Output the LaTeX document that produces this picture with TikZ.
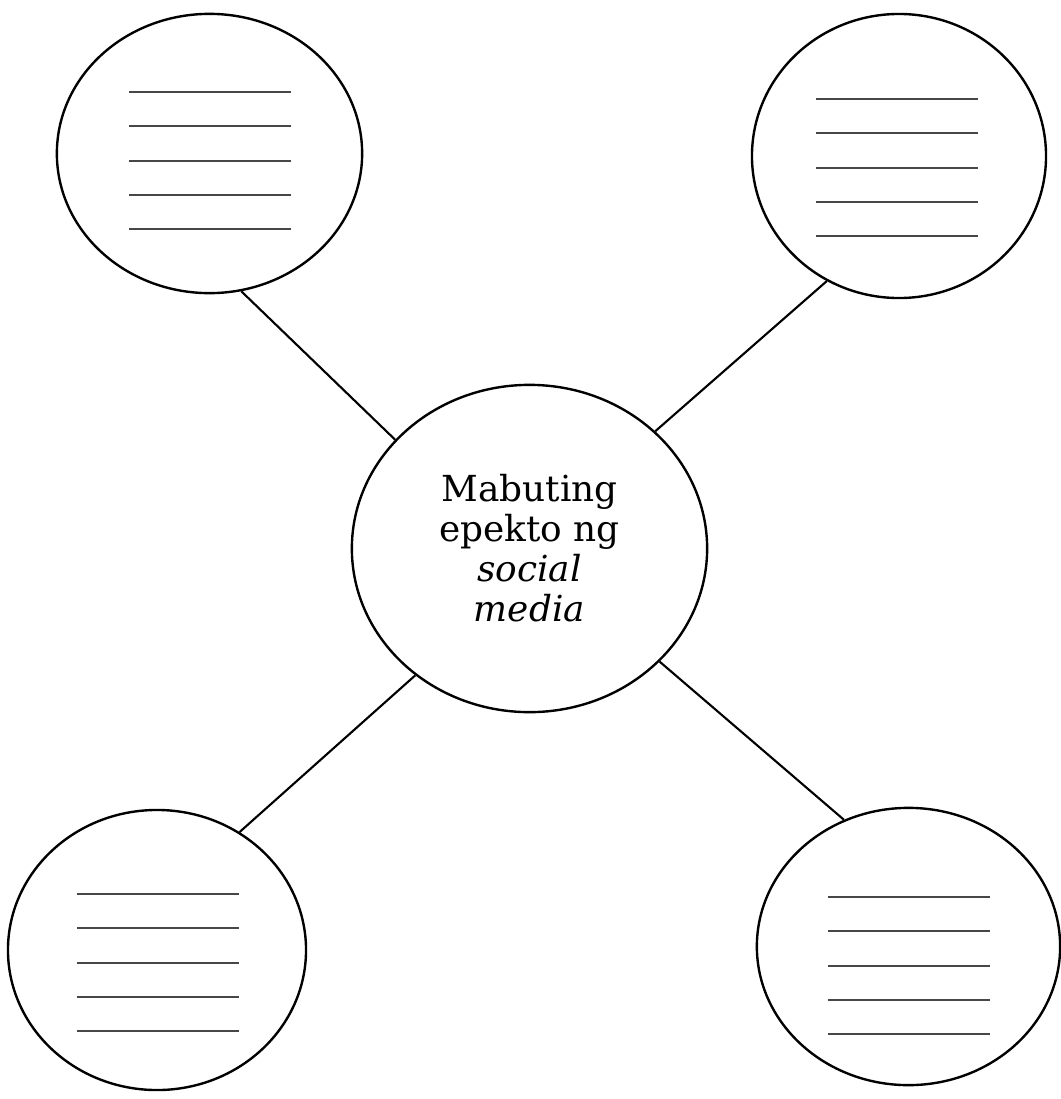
\documentclass[tikz,border=0pt]{standalone}
\usepackage{fontspec}
\setmainfont{DejaVu Serif}
\usepackage{tikz}
\usetikzlibrary{shapes.geometric}
\newcommand*{\blankLines}[2]{%
  \foreach \k in {0,...,4} {
    \draw [blank line] (#1, #2 + 34.3*\k) -- ++(162, 0);
  }
}

\begin{document}
\begin{tikzpicture}[x=0.025cm, y=-0.025cm,
    bubble/.style={ellipse, draw, line width=1.7pt, inner sep=0pt},
    blank line/.style={line width=1.4pt, draw=black!72},
    spoke/.style={line width=1.5pt}]
\useasboundingbox (0,0) rectangle (1060,1099);

\node (hub) [bubble, minimum width=8.88cm, minimum height=8.18cm,
             align=center, font=\fontsize{25.5}{28.5}\selectfont] at (529.5,548.5)
    {Mabuting\\epekto ng\\\textit{social}\\\textit{media}};
\node (tl) [bubble, minimum width=7.63cm, minimum height=6.98cm] at (209.5,153.5) {};
\node (tr) [bubble, minimum width=7.35cm, minimum height=7.10cm] at (899,156) {};
\node (bl) [bubble, minimum width=7.45cm, minimum height=7.00cm] at (157,950) {};
\node (br) [bubble, minimum width=7.58cm, minimum height=6.93cm] at (908.5,946.5) {};
%
\draw [spoke] (tl.-77) -- (hub.141);
\draw [spoke] (tr.240) -- (hub.43);
\draw [spoke] (bl.55) -- (hub.228);
\draw [spoke] (br.117) -- (hub.-41);
%
\blankLines{129}{92}
\blankLines{816}{99}
\blankLines{77}{894}
\blankLines{828}{897}
\end{tikzpicture}
\end{document}
